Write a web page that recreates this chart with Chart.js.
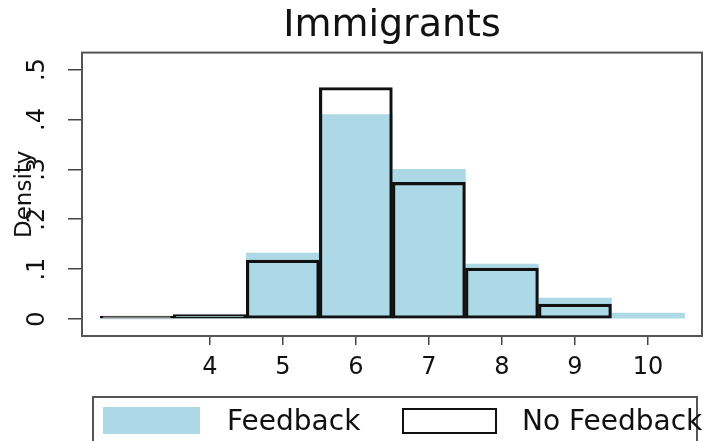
<!DOCTYPE html>
<html>
<head>
<meta charset="utf-8">
<title>Immigrants</title>
<script src="https://cdn.jsdelivr.net/npm/chart.js@4"></script>
<style>
  body { margin: 0; background: #fff; overflow: hidden; }
  #wrap { position: relative; width: 718px; height: 441px; }
  #legend {
    position: absolute; left: 92px; top: 396px; width: 606px; height: 60px;
    border: 2px solid #555; box-sizing: border-box;
    font-family: "DejaVu Sans", sans-serif; font-size: 28px; color: #111;
  }
  #legend .sw { position: absolute; box-sizing: border-box; }
  #legend .lbl { position: absolute; top: 8px; line-height: 30px; white-space: nowrap; }
</style>
</head>
<body>
<div id="wrap">
  <canvas id="histChart"></canvas>
  <div id="legend">
    <span class="sw" style="left:9px;top:9px;width:97px;height:27px;background:#add8e6"></span>
    <span class="lbl" style="left:133px">Feedback</span>
    <span class="sw" style="left:308px;top:10px;width:95px;height:26px;background:#fff;border:2px solid #111"></span>
    <span class="lbl" style="left:428px">No Feedback</span>
  </div>
</div>
<script>
// histogram bins (centres) and densities
const binCenters = [3, 4, 5, 6, 7, 8, 9, 10];
const feedback = [0, 0.006, 0.132, 0.41, 0.30, 0.11, 0.042, 0.012];
const noFeedback = [0.006, 0.009, 0.118, 0.464, 0.274, 0.102, 0.030, null];
const xTicks = [4, 5, 6, 7, 8, 9, 10];
const yTicks = [0, 0.1, 0.2, 0.3, 0.4, 0.5];

const toPoints = vals => binCenters.map((x, i) => ({ x: x, y: vals[i] }));

// Stata-style box around the plot region
const frame = {
    id: 'frame',
    afterDraw(chart) {
        const { ctx, chartArea: a } = chart;
        ctx.save();
        ctx.strokeStyle = '#555';
        ctx.lineWidth = 2;
        ctx.strokeRect(a.left, a.top, a.right - a.left, a.bottom - a.top);
        ctx.restore();
    }
};

const ctx = document.getElementById('histChart').getContext('2d');
const histChart = new Chart(ctx, {
    type: 'bar',
    data: {
        datasets: [
            {
                label: 'Feedback',
                data: toPoints(feedback),
                backgroundColor: '#add8e6',
                borderWidth: 0,
                order: 2
            },
            {
                label: 'No Feedback',
                data: toPoints(noFeedback),
                backgroundColor: 'rgba(0,0,0,0)',
                borderColor: '#111',
                borderWidth: 2.5,
                borderSkipped: false,
                order: 1
            }
        ]
    },
    options: {
        responsive: true,
        maintainAspectRatio: false,
        animation: false,
        grouped: false,
        barPercentage: 1,
        categoryPercentage: 1,
        layout: { padding: { left: 0, right: 16, top: 0, bottom: 60 } },
        plugins: {
            legend: { display: false },
            tooltip: { enabled: false },
            title: {
                display: true,
                text: 'Immigrants',
                fullSize: false,
                color: '#111',
                font: { family: 'DejaVu Sans', size: 38, weight: 'normal' },
                padding: { top: 3, bottom: 4 }
            }
        },
        scales: {
            x: {
                type: 'linear',
                min: 2.25,
                max: 10.74,
                offset: false,
                afterBuildTicks: s => { s.ticks = xTicks.map(v => ({ value: v })); },
                afterFit: s => { s.height = 45; },
                border: { display: false },
                grid: { offset: false, drawOnChartArea: false, drawTicks: true, tickLength: 9, color: '#444', lineWidth: 1.5 },
                ticks: {
                    color: '#111',
                    padding: 8,
                    maxRotation: 0,
                    font: { family: 'DejaVu Sans', size: 24 }
                }
            },
            y: {
                min: -0.034,
                max: 0.534,
                afterBuildTicks: s => { s.ticks = yTicks.map(v => ({ value: v })); },
                afterFit: s => { s.width = 82; },
                border: { display: false },
                grid: { drawOnChartArea: false, drawTicks: true, tickLength: 14, color: '#444', lineWidth: 1.5 },
                title: {
                    display: true,
                    text: 'Density',
                    color: '#111',
                    font: { family: 'DejaVu Sans', size: 23 },
                    padding: { top: 11, bottom: 0 }
                },
                ticks: {
                    color: '#111',
                    padding: 19,
                    minRotation: 90,
                    maxRotation: 90,
                    crossAlign: 'center',
                    font: { family: 'DejaVu Sans', size: 24 },
                    callback: v => v === 0 ? '0' : v.toFixed(1).replace(/^0/, '')
                }
            }
        }
    },
    plugins: [frame]
});
</script>
</body>
</html>
